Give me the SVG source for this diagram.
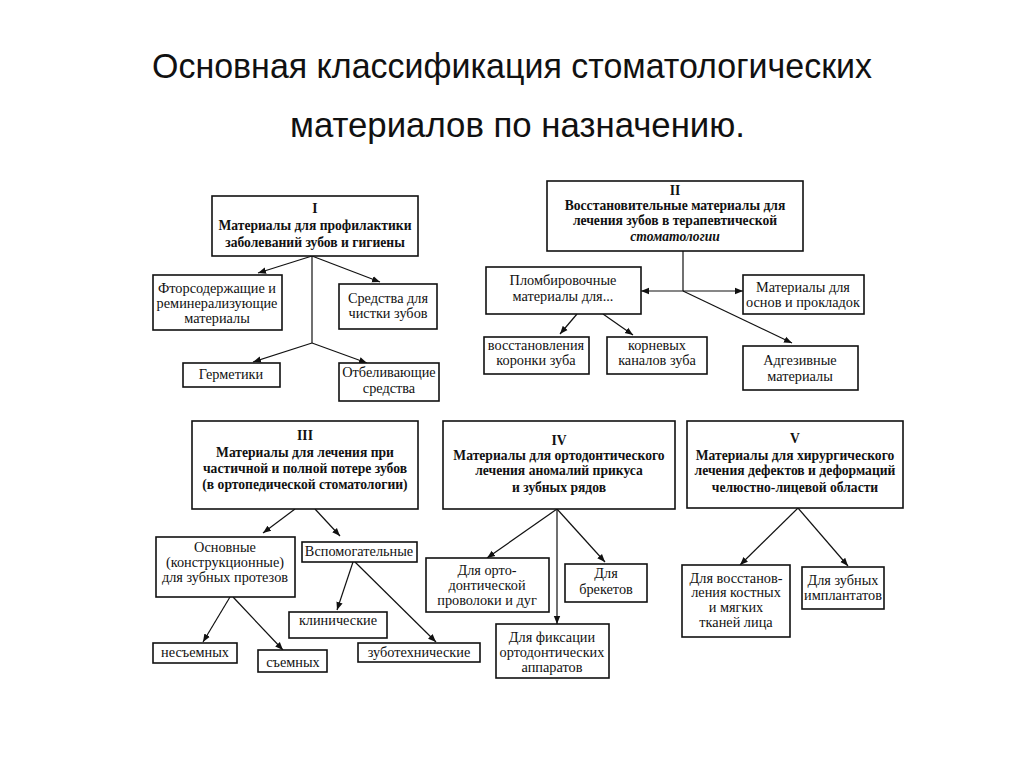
<svg xmlns="http://www.w3.org/2000/svg" width="1024" height="768" viewBox="0 0 1024 768">
<defs>
<marker id="ah" viewBox="0 0 10 10" refX="10" refY="5" markerWidth="8" markerHeight="8" markerUnits="userSpaceOnUse" orient="auto">
<path d="M0,1 L10,5 L0,9 Z" fill="#111"/>
</marker>
</defs>
<style>
.bx{fill:#fff;stroke:#111;stroke-width:1.6}
.t{font-family:"Liberation Serif","Times New Roman",serif;font-size:14.3px;fill:#111;text-anchor:middle}
.h{font-family:"Liberation Serif","Times New Roman",serif;font-size:13.6px;font-weight:bold;fill:#111;text-anchor:middle}
.ti{font-family:"Liberation Sans Narrow","Liberation Sans",Arial,sans-serif;font-size:35px;fill:#111}
.c{fill:none;stroke:#111;stroke-width:1.2}
.a{fill:none;stroke:#111;stroke-width:1.2;marker-end:url(#ah)}
</style>
<rect width="1024" height="768" fill="#fff"/>
<g id="title">
<text class="ti" x="152" y="78" textLength="720" lengthAdjust="spacingAndGlyphs">Основная классификация стоматологических</text>
<text class="ti" x="290" y="137" textLength="455" lengthAdjust="spacingAndGlyphs">материалов по назначению.</text>
</g>
<g id="connectors">
<path class="c" d="M312,256 V343"/>
<path class="a" d="M312,256 L258,273"/>
<path class="a" d="M312,256 L380,282"/>
<path class="a" d="M312,343 L253,362"/>
<path class="a" d="M312,343 L367,363"/>
<path class="c" d="M683,251 V291"/>
<path class="a" d="M683,291 H641"/>
<path class="a" d="M683,291 H743"/>
<path class="a" d="M683,291 L792,343"/>
<path class="a" d="M577,314 L560,334"/>
<path class="a" d="M603,314 L633,335"/>
<path class="a" d="M295,509 L263,533"/>
<path class="a" d="M315,509 L340,536"/>
<path class="a" d="M230,597 L203,642"/>
<path class="a" d="M233,597 L283,650"/>
<path class="a" d="M353,562 L337,610"/>
<path class="a" d="M355,562 L436,642"/>
<path class="a" d="M557,509 L487,558"/>
<path class="a" d="M557,509 L605,562"/>
<path class="a" d="M557,509 V624"/>
<path class="a" d="M798,508 L740,565"/>
<path class="a" d="M798,508 L848,566"/>
</g>
<g id="n1">
<rect class="bx" x="212" y="196" width="206" height="60"/>
<text class="h" x="315" y="213">I</text>
<text class="h" x="315" y="230">Материалы для профилактики</text>
<text class="h" x="315" y="247">заболеваний зубов и гигиены</text>
</g>
<g id="n1a">
<rect class="bx" x="153" y="275" width="129" height="55"/>
<text class="t" x="217" y="293">Фторсодержащие и</text>
<text class="t" x="217" y="308">реминерализующие</text>
<text class="t" x="217" y="323">материалы</text>
</g>
<g id="n1b">
<rect class="bx" x="339" y="284" width="98" height="45"/>
<text class="t" x="388" y="303">Средства для</text>
<text class="t" x="388" y="318">чистки зубов</text>
</g>
<g id="n1c">
<rect class="bx" x="183" y="363" width="97" height="24"/>
<text class="t" x="231" y="379">Герметики</text>
</g>
<g id="n1d">
<rect class="bx" x="339" y="363" width="100" height="38"/>
<text class="t" x="389" y="377">Отбеливающие</text>
<text class="t" x="389" y="393">средства</text>
</g>
<g id="n2">
<rect class="bx" x="547" y="181" width="256" height="70"/>
<text class="h" x="675" y="195">II</text>
<text class="h" x="675" y="210">Восстановительные материалы для</text>
<text class="h" x="675" y="225">лечения зубов в терапевтической</text>
<text class="h" x="675" y="241" font-style="italic">стоматологии</text>
</g>
<g id="n2a">
<rect class="bx" x="486" y="267" width="155" height="47"/>
<text class="t" x="563" y="285">Пломбировочные</text>
<text class="t" x="563" y="301">материалы для...</text>
</g>
<g id="n2b">
<rect class="bx" x="743" y="275" width="121" height="39"/>
<text class="t" x="803" y="292">Материалы для</text>
<text class="t" x="803" y="307">основ и прокладок</text>
</g>
<g id="n2c">
<rect class="bx" x="484" y="337" width="105" height="37"/>
<text class="t" x="536" y="350">восстановления</text>
<text class="t" x="536" y="365">коронки зуба</text>
</g>
<g id="n2d">
<rect class="bx" x="607" y="337" width="100" height="37"/>
<text class="t" x="657" y="350">корневых</text>
<text class="t" x="657" y="365">каналов зуба</text>
</g>
<g id="n2e">
<rect class="bx" x="743" y="346" width="115" height="44"/>
<text class="t" x="800" y="365">Адгезивные</text>
<text class="t" x="800" y="381">материалы</text>
</g>
<g id="n3">
<rect class="bx" x="192" y="421" width="226" height="88"/>
<text class="h" x="305" y="440">III</text>
<text class="h" x="305" y="457">Материалы для лечения при</text>
<text class="h" x="305" y="473">частичной и полной потере зубов</text>
<text class="h" x="305" y="489">(в ортопедической стоматологии)</text>
</g>
<g id="n3a">
<rect class="bx" x="156" y="537" width="139" height="60"/>
<text class="t" x="225" y="552">Основные</text>
<text class="t" x="225" y="567">(конструкционные)</text>
<text class="t" x="225" y="582">для зубных протезов</text>
</g>
<g id="n3b">
<rect class="bx" x="302" y="542" width="115" height="20"/>
<text class="t" x="359" y="556">Вспомогательные</text>
</g>
<g id="n3c">
<rect class="bx" x="289" y="612" width="98" height="26"/>
<text class="t" x="338" y="625">клинические</text>
</g>
<g id="n3d">
<rect class="bx" x="358" y="643" width="122" height="19"/>
<text class="t" x="419" y="657">зуботехнические</text>
</g>
<g id="n3e">
<rect class="bx" x="153" y="643" width="84" height="20"/>
<text class="t" x="195" y="657">несъемных</text>
</g>
<g id="n3f">
<rect class="bx" x="258" y="650" width="69" height="22"/>
<text class="t" x="293" y="667">съемных</text>
</g>
<g id="n4">
<rect class="bx" x="443" y="421" width="232" height="88"/>
<text class="h" x="559" y="445">IV</text>
<text class="h" x="559" y="460">Материалы для ортодонтического</text>
<text class="h" x="559" y="475">лечения аномалий прикуса</text>
<text class="h" x="559" y="492">и зубных рядов</text>
</g>
<g id="n4a">
<rect class="bx" x="426" y="558" width="123" height="54"/>
<text class="t" x="487" y="575">Для орто-</text>
<text class="t" x="487" y="590">донтической</text>
<text class="t" x="487" y="605">проволоки и дуг</text>
</g>
<g id="n4b">
<rect class="bx" x="565" y="564" width="82" height="38"/>
<text class="t" x="606" y="578">Для</text>
<text class="t" x="606" y="594">брекетов</text>
</g>
<g id="n4c">
<rect class="bx" x="496" y="624" width="113" height="54"/>
<text class="t" x="552" y="642">Для фиксации</text>
<text class="t" x="552" y="657">ортодонтических</text>
<text class="t" x="552" y="672">аппаратов</text>
</g>
<g id="n5">
<rect class="bx" x="687" y="421" width="216" height="87"/>
<text class="h" x="795" y="443">V</text>
<text class="h" x="795" y="460">Материалы для хирургического</text>
<text class="h" x="795" y="475">лечения дефектов и деформаций</text>
<text class="h" x="795" y="492">челюстно-лицевой области</text>
</g>
<g id="n5a">
<rect class="bx" x="682" y="565" width="108" height="72"/>
<text class="t" x="736" y="583">Для восстанов-</text>
<text class="t" x="736" y="597">ления костных</text>
<text class="t" x="736" y="612">и мягких</text>
<text class="t" x="736" y="627">тканей лица</text>
</g>
<g id="n5b">
<rect class="bx" x="802" y="567" width="82" height="42"/>
<text class="t" x="843" y="585">Для зубных</text>
<text class="t" x="843" y="600">имплантатов</text>
</g>
</svg>
